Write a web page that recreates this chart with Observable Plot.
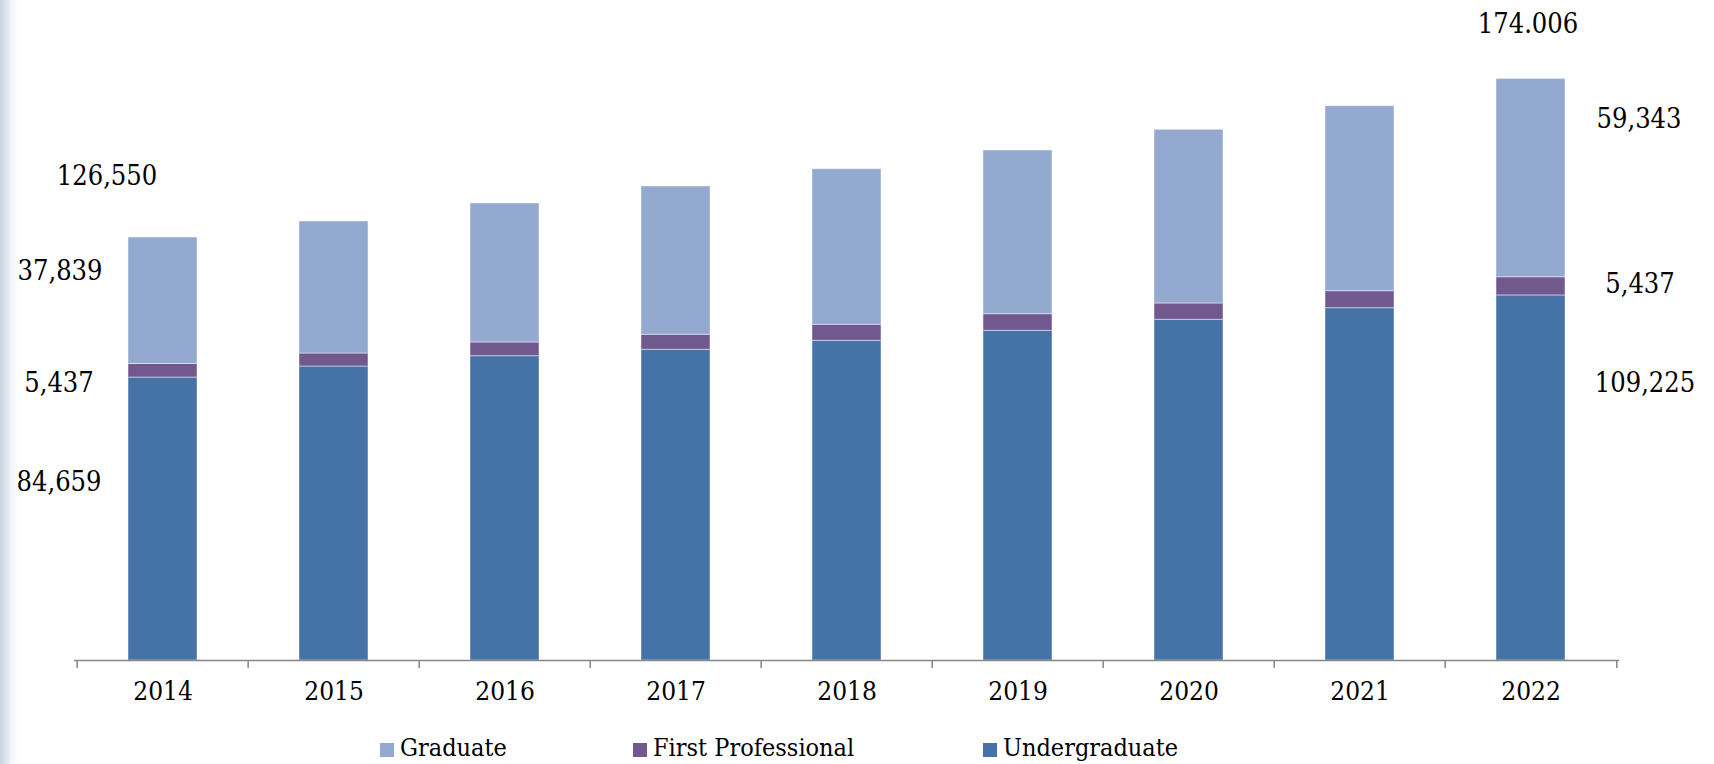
<!DOCTYPE html>
<html>
<head>
<meta charset="utf-8">
<script src="https://cdn.jsdelivr.net/npm/d3@7"></script>
<script src="https://cdn.jsdelivr.net/npm/@observablehq/plot@0.6"></script>
<style>
  body { margin: 0; background: #fff; }
  #wrap { position: relative; width: 1714px; height: 764px; overflow: hidden; background: #fff; }
  #shade { position: absolute; left: 0; top: 0; width: 20px; height: 764px; pointer-events: none;
           background: linear-gradient(to right, rgba(196,206,222,0.9), rgba(235,239,245,0.5) 60%, rgba(255,255,255,0)); }
  #legend { position: relative; height: 42px; color: #000; }
  .item { position: absolute; top: 4px; height: 42px; display: flex; align-items: center; }
  .sw { width: 14px; height: 14px; margin-right: 6px; margin-top: 6px; }
</style>
</head>
<body>
<div id="wrap"><div id="shade"></div></div>
<script>
// ---- data ----
const years = ["2014", "2015", "2016", "2017", "2018", "2019", "2020", "2021", "2022"];
const undergraduate     = [84659, 87965, 91047, 92961, 95654, 98646, 101937, 105408, 109225];
const firstProfessional = [4052, 3890, 4099, 4488, 4787, 4967, 4877, 5087, 5438];
const graduate          = [37839, 39495, 41588, 44372, 46548, 48979, 51971, 55352, 59343];
const seriesNames  = ["Undergraduate", "First Professional", "Graduate"];
const seriesColors = ["#4572A7", "#71588F", "#93A9CF"];
const legendOrder  = ["Graduate", "First Professional", "Undergraduate"];
const firstYearLabels = ["84,659", "5,437", "37,839"];
const firstYearTotal  = "126,550";
const lastYearLabels  = ["109,225", "5,437", "59,343"];
const lastYearTotal   = "174.006";

// ---- font choice (condensed serif if installed) ----
function hasFont(name) {
  const c = document.createElement("canvas").getContext("2d");
  c.font = "40px monospace";
  const a = c.measureText("2014 Graduate").width;
  c.font = `40px '${name}', monospace`;
  const b = c.measureText("2014 Graduate").width;
  return Math.abs(a - b) > 0.5;
}
const condensed = hasFont("DejaVu Serif Condensed");
const FONT = condensed ? "'DejaVu Serif Condensed', 'Liberation Serif', serif" : "'Liberation Serif', serif";
const tickFS = condensed ? 26 : 28;
const valueFS = condensed ? 27 : 30;
const legendFS = condensed ? 25 : 28;

// ---- build table ----
const seriesValues = [undergraduate, firstProfessional, graduate];
const rows = [];
years.forEach((yr, i) => {
  seriesNames.forEach((s, j) => rows.push({year: yr, series: s, value: seriesValues[j][i]}));
});

function segMids(i) {
  const u = undergraduate[i], f = firstProfessional[i], g = graduate[i];
  return [u / 2, u + f / 2, u + f + g / 2];
}
function total(i) { return undergraduate[i] + firstProfessional[i] + graduate[i]; }

const W = 1714, H = 722;
const mL = 74, mR = 95, mB = 62;
const yMax = 180000;
const unitsPerPx = 299.2;
const mT = (H - mB) - yMax / unitsPerPx;
const bw = (W - mL - mR) / years.length;

function label(yr, yv, txt, dx, dy) {
  return Plot.text([{year: yr, y: yv, t: txt}], {
    x: "year", y: "y", text: "t", dx, dy,
    fontSize: valueFS, fill: "#000", textAnchor: "middle", lineAnchor: "middle"
  });
}

const first = years[0], last = years[years.length - 1];
const fm = segMids(0), lm = segMids(years.length - 1);

const chart = Plot.plot({
  width: W, height: H,
  marginLeft: mL, marginRight: mR, marginTop: mT, marginBottom: mB,
  style: {fontFamily: FONT, fontSize: tickFS + "px", color: "#000", background: "transparent", overflow: "visible"},
  x: {domain: years, paddingInner: 0, paddingOuter: 0, label: null},
  y: {domain: [0, yMax], axis: null},
  color: {domain: seriesNames, range: seriesColors},
  marks: [
    Plot.barY(rows, {x: "year", y: "value", fill: "series", insetLeft: 51, insetRight: 51,
                     stroke: "#ffffff", strokeOpacity: 0.45, strokeWidth: 1}),
    Plot.ruleY([0], {stroke: "#868686", strokeWidth: 1.5}),
    Plot.ruleX(years, {x: d => d, dx: -bw / 2, y1: 0, y2: -8 * unitsPerPx, stroke: "#868686", strokeWidth: 1.5}),
    Plot.ruleX([last], {x: d => d, dx: bw / 2, y1: 0, y2: -8 * unitsPerPx, stroke: "#868686", strokeWidth: 1.5}),
    Plot.axisX({tickSize: 0, tickPadding: 21, fill: "#000", label: null}),
    // first-year annotations (left of bar)
    label(first, fm[0], firstYearLabels[0], -104, -37),
    label(first, fm[1], firstYearLabels[1], -104, 13),
    label(first, fm[2], firstYearLabels[2], -103, -29),
    label(first, total(0), firstYearTotal, -56, -61),
    // last-year annotations (right of bar)
    label(last, lm[0], lastYearLabels[0], 114, -95),
    label(last, lm[1], lastYearLabels[1], 109, -2),
    label(last, lm[2], lastYearLabels[2], 108, -59),
    label(last, total(years.length - 1), lastYearTotal, -3, -55)
  ]
});

const wrap = document.getElementById("wrap");
wrap.insertBefore(chart, wrap.firstChild);

// legend below the svg
const legend = document.createElement("div");
legend.id = "legend";
legend.style.fontFamily = FONT;
legend.style.fontSize = legendFS + "px";
const legendX = [380, 633, 983];
legendOrder.forEach((name, k) => {
  const it = document.createElement("div");
  it.className = "item";
  it.style.left = legendX[k] + "px";
  const sw = document.createElement("div");
  sw.className = "sw";
  sw.style.background = seriesColors[seriesNames.indexOf(name)];
  const tx = document.createElement("span");
  tx.textContent = name;
  it.appendChild(sw); it.appendChild(tx);
  legend.appendChild(it);
});
wrap.insertBefore(legend, document.getElementById("shade"));
</script>
</body>
</html>
